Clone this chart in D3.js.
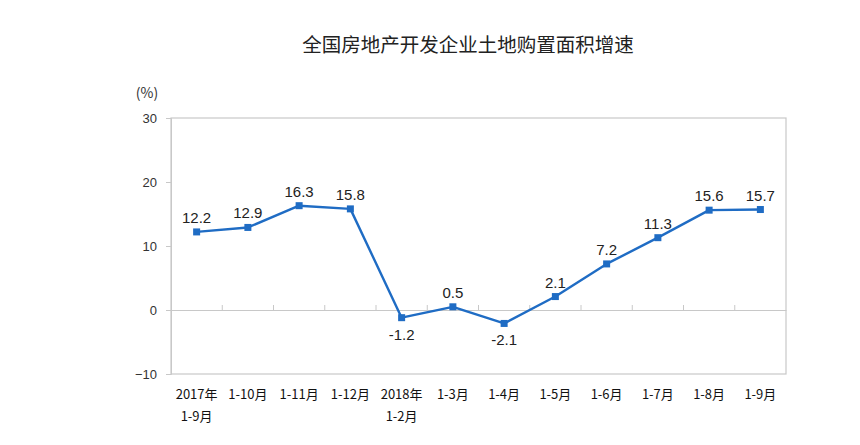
<!DOCTYPE html>
<html><head><meta charset="utf-8">
<script src="https://cdn.jsdelivr.net/npm/d3@7"></script>
<style>body{margin:0;background:#fff;}svg{display:block;}</style>
</head><body>
<svg id="c" width="860" height="445"></svg>
<script>
const categories = [["2017年","1-9月"],["1-10月"],["1-11月"],["1-12月"],["2018年","1-2月"],["1-3月"],["1-4月"],["1-5月"],["1-6月"],["1-7月"],["1-8月"],["1-9月"]];
const values = [12.2, 12.9, 16.3, 15.8, -1.2, 0.5, -2.1, 2.1, 7.2, 11.3, 15.6, 15.7];
const yTicks = [30, 20, 10, 0, -10];
const title = "全国房地产开发企业土地购置面积增速";
const unit = "(%)";

const svg = d3.select("#c");
const m = {l:171, r:786, t:118, b:374};
const idx = d3.range(categories.length);
const x = d3.scaleBand().domain(idx).range([m.l, m.r]).paddingInner(0).paddingOuter(0);
const y = d3.scaleLinear().domain([-10, 30]).range([m.b, m.t]);
const cx = i => x(i) + x.bandwidth()/2;

svg.append("text").attr("x", 468).attr("y", 52).attr("text-anchor","middle")
  .attr("font-family","'Noto Sans CJK SC'").attr("font-size",19.5).attr("fill","#222").text(title);
svg.append("text").attr("x", 147).attr("y", 98).attr("text-anchor","middle")
  .attr("font-family","'Noto Sans CJK SC'").attr("font-size",14).attr("fill","#333").text(unit);

// plot border
svg.append("rect").attr("x", m.l).attr("y", m.t).attr("width", m.r-m.l).attr("height", m.b-m.t)
  .attr("fill","none").attr("stroke","#c8c8c8").attr("stroke-width",1.2);

// y axis
const ya = svg.append("g").attr("transform",`translate(${m.l},0)`)
  .call(d3.axisLeft(y).tickValues(yTicks).tickSize(5).tickFormat(d3.format("d")));
ya.select(".domain").attr("stroke","#c8c8c8");
ya.selectAll(".tick line").attr("stroke","#c8c8c8");
ya.selectAll(".tick text").attr("font-family","'Liberation Sans', Arial").attr("font-size",13).attr("fill","#333").attr("x",-14);

// zero line with category ticks
const xa = svg.append("g").attr("transform",`translate(0,${y(0)})`)
  .call(d3.axisTop(x).tickValues([]).tickSizeOuter(0));
xa.select(".domain").attr("stroke","#c8c8c8").attr("stroke-width",1.2);
svg.append("g").selectAll("line").data(d3.range(1, categories.length)).join("line")
  .attr("x1", i => x(i)).attr("x2", i => x(i))
  .attr("y1", y(0)).attr("y2", y(0)-5).attr("stroke","#c8c8c8");

// x labels
const xl = svg.append("g");
categories.forEach((lines, i) => {
  const t = xl.append("text").attr("x", cx(i)).attr("y", 399).attr("text-anchor","middle")
    .attr("font-family","'Noto Sans CJK SC'").attr("font-size",13).attr("fill","#111");
  lines.forEach((s, k) => t.append("tspan").attr("x", cx(i)).attr("dy", k===0?0:22).text(s));
});

// line
const color = "#1f6cc4";
svg.append("path").datum(values)
  .attr("d", d3.line().x((d,i)=>cx(i)).y(d=>y(d)))
  .attr("fill","none").attr("stroke", color).attr("stroke-width",2.4).attr("stroke-linejoin","round");
svg.append("g").selectAll("rect").data(values).join("rect")
  .attr("x",(d,i)=>cx(i)-3.5).attr("y",d=>y(d)-3.5).attr("width",7).attr("height",7).attr("fill",color);

// value labels
svg.append("g").selectAll("text").data(values).join("text")
  .attr("x",(d,i)=>cx(i)).attr("y",d=> d<0 ? y(d)+22 : y(d)-9)
  .attr("text-anchor","middle").attr("font-family","'Liberation Sans', Arial").attr("font-size",15)
  .attr("fill","#222").text(d=>d.toFixed(1));
</script>
</body></html>
